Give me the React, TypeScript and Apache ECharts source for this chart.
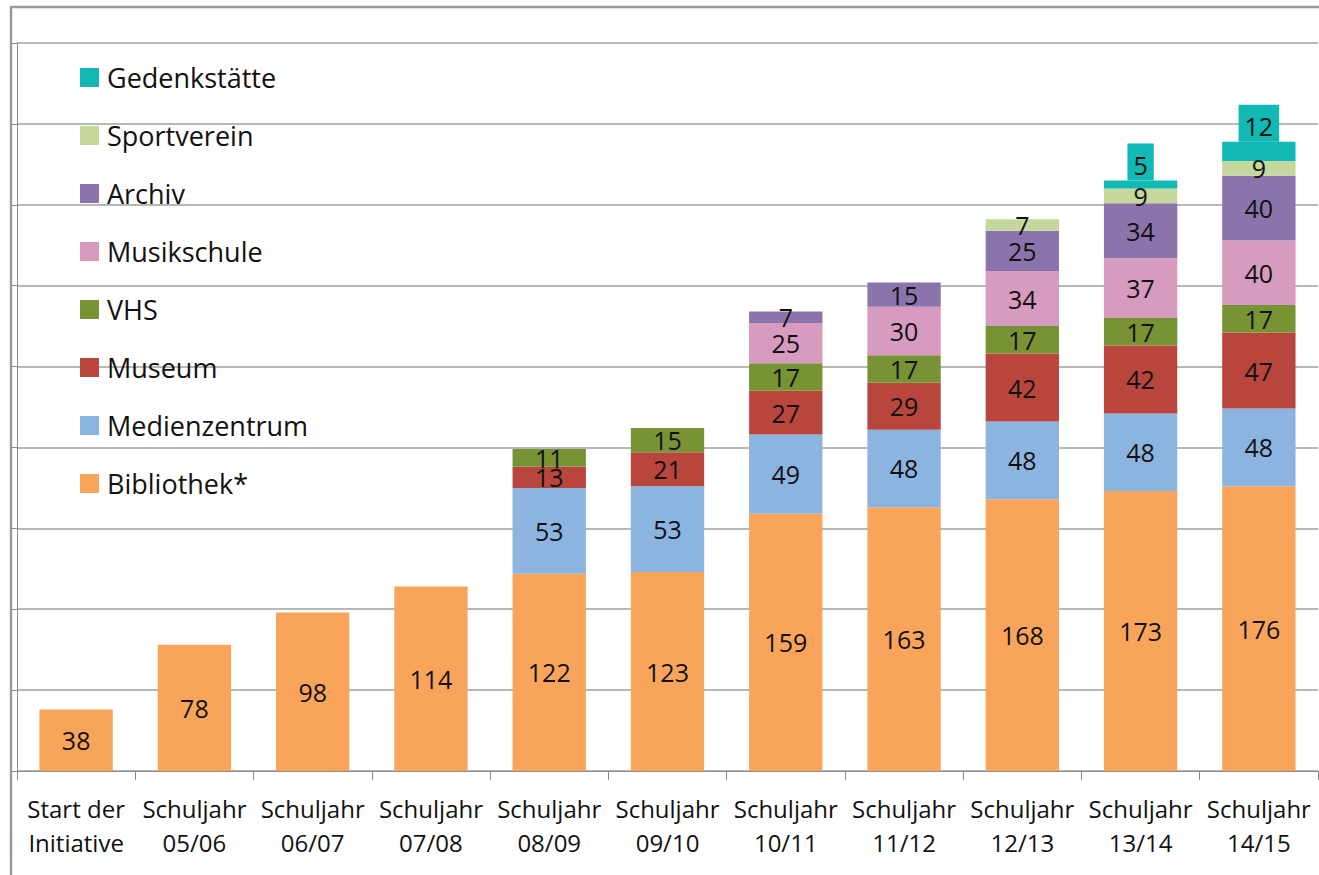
import React, { useEffect, useRef } from "react";
import * as echarts from "echarts";

const categories = [
  "Start der\nInitiative",
  "Schuljahr\n05/06",
  "Schuljahr\n06/07",
  "Schuljahr\n07/08",
  "Schuljahr\n08/09",
  "Schuljahr\n09/10",
  "Schuljahr\n10/11",
  "Schuljahr\n11/12",
  "Schuljahr\n12/13",
  "Schuljahr\n13/14",
  "Schuljahr\n14/15",
];

const bibliothek = [38, 78, 98, 114, 122, 123, 159, 163, 168, 173, 176];
const medienzentrum = [null, null, null, null, 53, 53, 49, 48, 48, 48, 48];
const museum = [null, null, null, null, 13, 21, 27, 29, 42, 42, 47];
const vhs = [null, null, null, null, 11, 15, 17, 17, 17, 17, 17];
const musikschule = [null, null, null, null, null, null, 25, 30, 34, 37, 40];
const archiv = [null, null, null, null, null, null, 7, 15, 25, 34, 40];
const sportverein = [null, null, null, null, null, null, null, null, 7, 9, 9];
const gedenkstaette = [null, null, null, null, null, null, null, null, null, 5, 12];

const seriesDefs = [
  { name: "Bibliothek*", data: bibliothek, color: "#F8A55B" },
  { name: "Medienzentrum", data: medienzentrum, color: "#8CB4E1" },
  { name: "Museum", data: museum, color: "#B8463D" },
  { name: "VHS", data: vhs, color: "#789334" },
  { name: "Musikschule", data: musikschule, color: "#D69BBE" },
  { name: "Archiv", data: archiv, color: "#8B74AB" },
  { name: "Sportverein", data: sportverein, color: "#C4D79C" },
  { name: "Gedenkstätte", data: gedenkstaette, color: "#12B8B4" },
];

const FONT = "Open Sans";

export default function App() {
  const ref = useRef<HTMLDivElement>(null);
  useEffect(() => {
    if (!ref.current) return;
    const chart = echarts.init(ref.current, null, { renderer: "svg" });
    const series = seriesDefs.map((s, i) => {
      const isTop = i === seriesDefs.length - 1;
      return {
        name: s.name,
        type: "bar",
        stack: "total",
        data: s.data,
        barCategoryGap: "38%",
        itemStyle: { color: s.color },
        emphasis: { disabled: true },
        label: isTop
          ? {
              show: true,
              position: "top",
              distance: 0,
              color: "#111",
              fontFamily: FONT,
              fontSize: 25,
              backgroundColor: s.color,
              padding: [9, 6, 3, 6],
              formatter: (p: any) => (p.value == null ? "" : String(p.value)),
            }
          : {
              show: true,
              position: "inside",
              color: "#111",
              fontFamily: FONT,
              fontSize: 25,
              formatter: (p: any) => (p.value == null ? "" : String(p.value)),
            },
      };
    });
    chart.setOption({
      animation: false,
      backgroundColor: "#fff",
      textStyle: { fontFamily: FONT },
      grid: { left: 17, right: 1, top: 43, bottom: 104, containLabel: false },
      legend: {
        orient: "vertical",
        left: 80,
        top: 64,
        padding: 0,
        itemWidth: 19,
        itemHeight: 19,
        itemGap: 31,
        icon: "rect",
        selectedMode: false,
        data: [...seriesDefs].reverse().map((s) => s.name),
        textStyle: { fontFamily: FONT, fontSize: 27, color: "#111", padding: [0, 0, 0, 3] },
      },
      xAxis: {
        type: "category",
        data: categories,
        axisLine: { lineStyle: { color: "#8c8c8c", width: 1 } },
        axisTick: { show: true, length: 9, lineStyle: { color: "#8c8c8c" } },
        axisLabel: {
          color: "#111",
          fontFamily: FONT,
          fontSize: 24,
          lineHeight: 34,
          margin: 20,
          interval: 0,
        },
      },
      yAxis: {
        type: "value",
        min: 0,
        max: 450,
        interval: 50,
        axisLabel: { show: false },
        axisLine: { show: true, lineStyle: { color: "#8c8c8c" } },
        axisTick: { show: true, length: 5, lineStyle: { color: "#8c8c8c" } },
        splitLine: { lineStyle: { color: "#a0a0a0", width: 1.5 } },
      },
      graphic: [
        {
          type: "line",
          shape: { x1: 11, y1: 7, x2: 11, y2: 875 },
          style: { stroke: "#9a9a9a", lineWidth: 2.5 },
        },
        {
          type: "line",
          shape: { x1: 10, y1: 7, x2: 1319, y2: 7 },
          style: { stroke: "#9a9a9a", lineWidth: 2.5 },
        },
      ],
      series,
    });
    return () => chart.dispose();
  }, []);
  return (
    <div
      ref={ref}
      style={{ position: "fixed", left: 0, top: 0, width: 1319, height: 875 }}
    />
  );
}
